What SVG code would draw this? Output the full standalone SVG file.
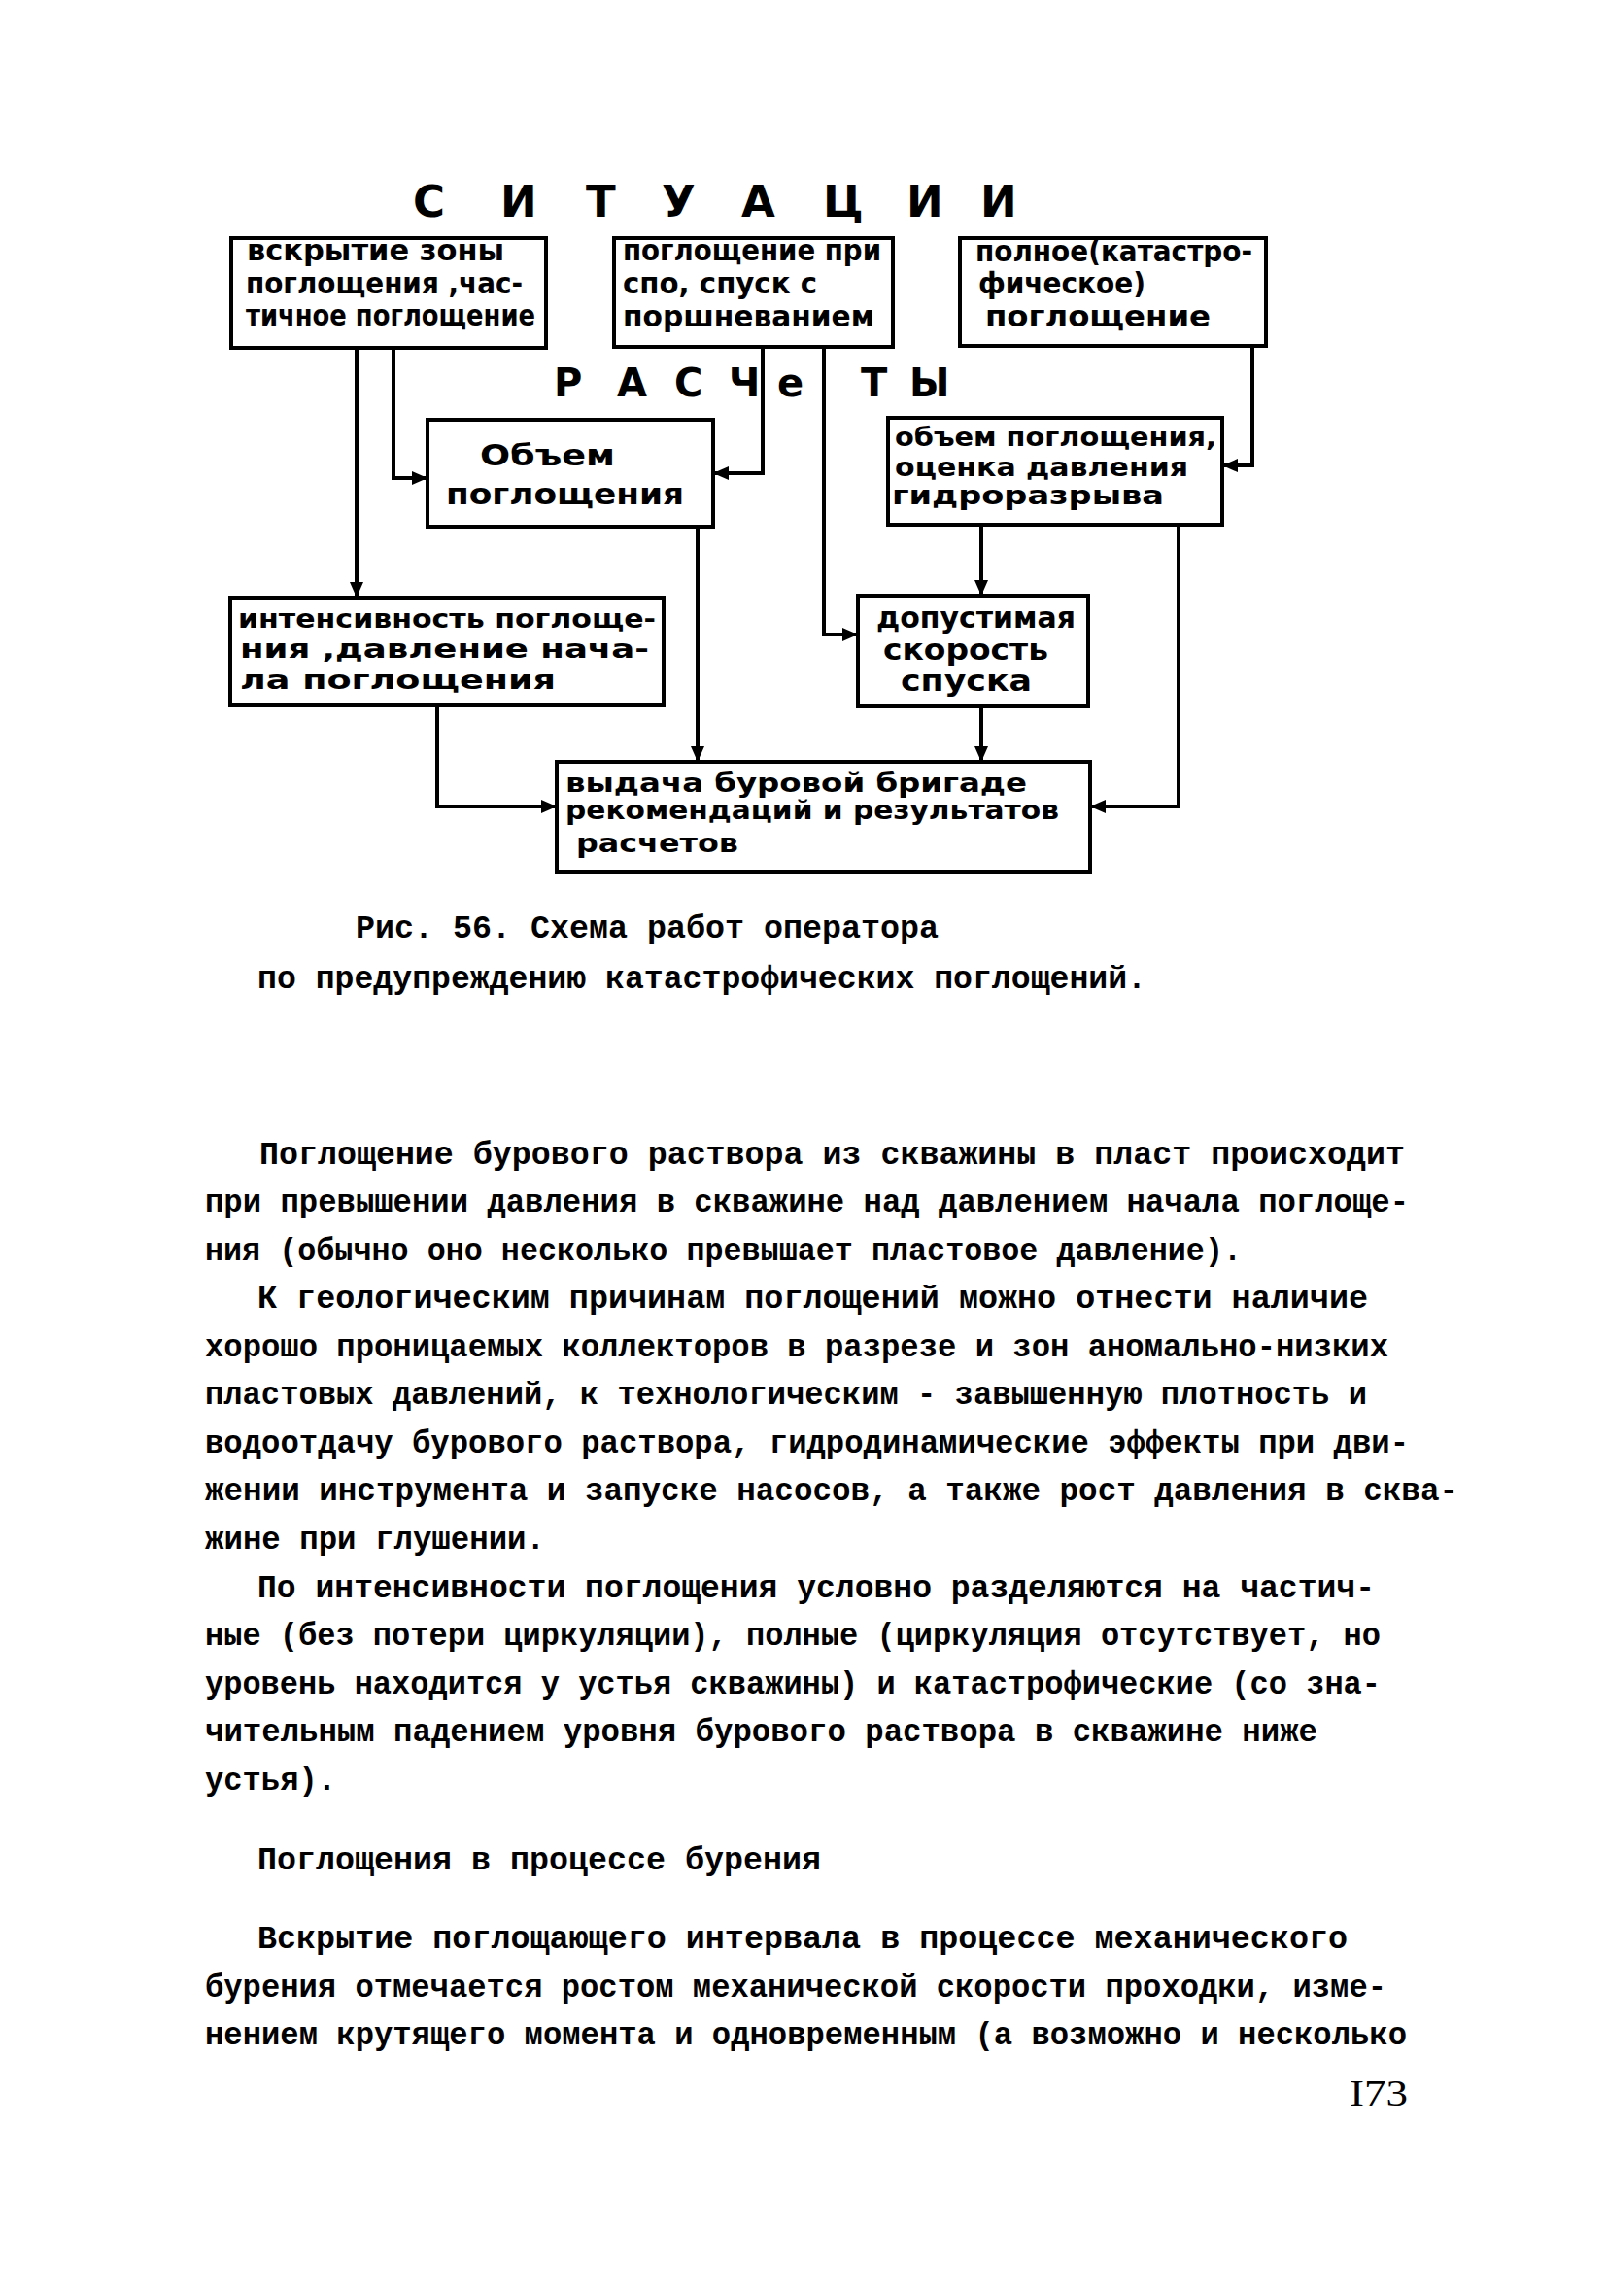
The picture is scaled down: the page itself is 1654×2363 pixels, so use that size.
<svg xmlns="http://www.w3.org/2000/svg" width="1654" height="2363" viewBox="0 0 1654 2363">
<style>
.bg{fill:#fff}
.box{fill:none;stroke:#000;stroke-width:4}
.con{fill:none;stroke:#000;stroke-width:4}
.bt{font-family:"DejaVu Sans Condensed","DejaVu Sans",sans-serif;font-weight:bold;font-size:30px;fill:#000}
.bs{font-family:"DejaVu Sans Condensed","DejaVu Sans",sans-serif;font-weight:bold;font-size:26px;fill:#000}
.big{font-family:"DejaVu Sans","Liberation Sans",sans-serif;font-weight:bold;font-size:45px;fill:#000}
.mid{font-family:"DejaVu Sans","Liberation Sans",sans-serif;font-weight:bold;font-size:40px;fill:#000}
.tw{font-family:"Liberation Mono","DejaVu Sans Mono",monospace;font-weight:bold;font-size:33px;fill:#000}
.pg{font-family:"Liberation Serif",serif;font-size:38px;fill:#000}
</style>
<defs>
<marker id="ah" markerUnits="userSpaceOnUse" markerWidth="16" markerHeight="14" refX="16" refY="7" orient="auto">
<path d="M0,0 L16,7 L0,14 z" fill="#000"/>
</marker>
</defs>
<rect class="bg" x="0" y="0" width="1654" height="2363"/>

<g id="title-situations">
<text class="big" x="425 470 515 560 603 642 681 722 763 805 847 890 933 971 1009" y="223">С И Т У А Ц И И</text>
</g>
<g id="title-calculations">
<text class="mid" x="570 602 635 664 694 722 750 785 800 843 886 911 936" y="408">Р А С Ч е Т Ы</text>
</g>

<g id="node-vskrytie">
<rect class="box" x="238" y="245" width="324" height="113"/>
<text class="bt" x="254" y="268" textLength="265" lengthAdjust="spacingAndGlyphs">вскрытие  зоны</text>
<text class="bt" x="253" y="302" textLength="285" lengthAdjust="spacingAndGlyphs">поглощения ,час-</text>
<text class="bt" x="253" y="335" textLength="298" lengthAdjust="spacingAndGlyphs">тичное поглощение</text>
</g>

<g id="node-spo">
<rect class="box" x="632" y="245" width="287" height="112"/>
<text class="bt" x="641" y="268" textLength="266" lengthAdjust="spacingAndGlyphs">поглощение при</text>
<text class="bt" x="641" y="302" textLength="200" lengthAdjust="spacingAndGlyphs">спо, спуск с</text>
<text class="bt" x="641" y="336" textLength="259" lengthAdjust="spacingAndGlyphs">поршневанием</text>
</g>

<g id="node-polnoe">
<rect class="box" x="988" y="245" width="315" height="111"/>
<text class="bt" x="1004" y="269" textLength="285" lengthAdjust="spacingAndGlyphs">полное(катастро-</text>
<text class="bt" x="1007" y="302" textLength="172" lengthAdjust="spacingAndGlyphs">фическое)</text>
<text class="bt" x="1014" y="336" textLength="232" lengthAdjust="spacingAndGlyphs">поглощение</text>
</g>

<g id="node-obem">
<rect class="box" x="440" y="432" width="294" height="110"/>
<text class="bt" x="494" y="479" textLength="139" lengthAdjust="spacingAndGlyphs">Объем</text>
<text class="bt" x="459" y="519" textLength="245" lengthAdjust="spacingAndGlyphs">поглощения</text>
</g>

<g id="node-ocenka">
<rect class="box" x="914" y="430" width="344" height="110"/>
<text class="bs" x="921" y="459" textLength="331" lengthAdjust="spacingAndGlyphs">объем поглощения,</text>
<text class="bs" x="921" y="490" textLength="302" lengthAdjust="spacingAndGlyphs">оценка давления</text>
<text class="bs" x="918" y="519" textLength="280" lengthAdjust="spacingAndGlyphs">гидроразрыва</text>
</g>

<g id="node-intensivnost">
<rect class="box" x="237" y="615" width="446" height="111"/>
<text class="bs" x="245" y="646" textLength="430" lengthAdjust="spacingAndGlyphs">интенсивность поглоще-</text>
<text class="bs" x="247" y="677" textLength="421" lengthAdjust="spacingAndGlyphs">ния ,давление  нача-</text>
<text class="bs" x="247" y="709" textLength="325" lengthAdjust="spacingAndGlyphs">ла  поглощения</text>
</g>

<g id="node-skorost">
<rect class="box" x="883" y="613" width="237" height="114"/>
<text class="bt" x="902" y="646" textLength="205" lengthAdjust="spacingAndGlyphs">допустимая</text>
<text class="bt" x="909" y="679" textLength="170" lengthAdjust="spacingAndGlyphs">скорость</text>
<text class="bt" x="927" y="711" textLength="135" lengthAdjust="spacingAndGlyphs">спуска</text>
</g>

<g id="node-vydacha">
<rect class="box" x="573" y="784" width="549" height="113"/>
<text class="bs" x="582" y="815" textLength="475" lengthAdjust="spacingAndGlyphs">выдача  буровой  бригаде</text>
<text class="bs" x="582" y="843" textLength="508" lengthAdjust="spacingAndGlyphs">рекомендаций и результатов</text>
<text class="bs" x="593" y="877" textLength="167" lengthAdjust="spacingAndGlyphs">расчетов</text>
</g>

<g id="connectors">
<path class="con" d="M367,358 V615" marker-end="url(#ah)"/>
<path class="con" d="M405,358 V492 H440" marker-end="url(#ah)"/>
<path class="con" d="M785,357 V487 H734" marker-end="url(#ah)"/>
<path class="con" d="M848,357 V653 H883" marker-end="url(#ah)"/>
<path class="con" d="M1289,356 V479 H1258" marker-end="url(#ah)"/>
<path class="con" d="M1010,540 V613" marker-end="url(#ah)"/>
<path class="con" d="M718,542 V784" marker-end="url(#ah)"/>
<path class="con" d="M1010,727 V784" marker-end="url(#ah)"/>
<path class="con" d="M450,726 V830 H573" marker-end="url(#ah)"/>
<path class="con" d="M1213,540 V830 H1122" marker-end="url(#ah)"/>
</g>

<g id="caption">
<text class="tw" x="366" y="965" textLength="600" lengthAdjust="spacingAndGlyphs">Рис. 56. Схема работ оператора</text>
<text class="tw" x="265" y="1017" textLength="915" lengthAdjust="spacingAndGlyphs">по предупреждению катастрофических поглощений.</text>
</g>

<g id="body-text">
<text class="tw" x="267" y="1198" textLength="1179" lengthAdjust="spacingAndGlyphs">Поглощение бурового раствора из скважины в пласт происходит</text>
<text class="tw" x="211" y="1247" textLength="1239" lengthAdjust="spacingAndGlyphs">при превышении давления в скважине над давлением начала поглоще-</text>
<text class="tw" x="211" y="1297" textLength="1067" lengthAdjust="spacingAndGlyphs">ния (обычно оно несколько превышает пластовое давление).</text>
<text class="tw" x="265" y="1346" textLength="1143" lengthAdjust="spacingAndGlyphs">К геологическим причинам поглощений можно отнести наличие</text>
<text class="tw" x="211" y="1396" textLength="1218" lengthAdjust="spacingAndGlyphs">хорошо проницаемых коллекторов в разрезе и зон аномально-низких</text>
<text class="tw" x="211" y="1445" textLength="1196" lengthAdjust="spacingAndGlyphs">пластовых давлений, к технологическим - завышенную плотность и</text>
<text class="tw" x="211" y="1495" textLength="1239" lengthAdjust="spacingAndGlyphs">водоотдачу бурового раствора, гидродинамические эффекты при дви-</text>
<text class="tw" x="211" y="1544" textLength="1290" lengthAdjust="spacingAndGlyphs">жении инструмента и запуске насосов, а также рост давления в сква-</text>
<text class="tw" x="211" y="1594" textLength="350" lengthAdjust="spacingAndGlyphs">жине при глушении.</text>
<text class="tw" x="265" y="1644" textLength="1150" lengthAdjust="spacingAndGlyphs">По интенсивности поглощения условно разделяются на частич-</text>
<text class="tw" x="211" y="1693" textLength="1210" lengthAdjust="spacingAndGlyphs">ные (без потери циркуляции), полные (циркуляция отсутствует, но</text>
<text class="tw" x="211" y="1743" textLength="1210" lengthAdjust="spacingAndGlyphs">уровень находится у устья скважины) и катастрофические (со зна-</text>
<text class="tw" x="211" y="1792" textLength="1145" lengthAdjust="spacingAndGlyphs">чительным падением уровня бурового раствора в скважине ниже</text>
<text class="tw" x="211" y="1842" textLength="135" lengthAdjust="spacingAndGlyphs">устья).</text>
<text class="tw" x="265" y="1924" textLength="580" lengthAdjust="spacingAndGlyphs">Поглощения в процессе бурения</text>
<text class="tw" x="265" y="2005" textLength="1122" lengthAdjust="spacingAndGlyphs">Вскрытие поглощающего интервала в процессе механического</text>
<text class="tw" x="211" y="2055" textLength="1216" lengthAdjust="spacingAndGlyphs">бурения отмечается ростом механической скорости проходки, изме-</text>
<text class="tw" x="211" y="2104" textLength="1237" lengthAdjust="spacingAndGlyphs">нением крутящего момента и одновременным (а возможно и несколько</text>
</g>

<g id="page-number">
<text class="pg" x="1389" y="2167" textLength="60" lengthAdjust="spacingAndGlyphs">I73</text>
</g>
</svg>
